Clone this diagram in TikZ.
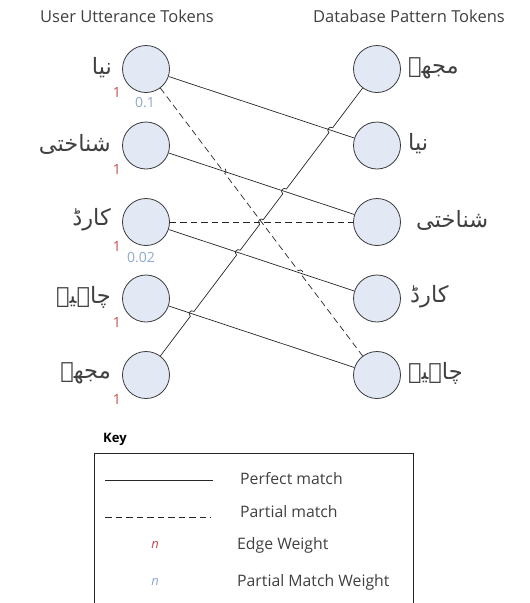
\documentclass[tikz,border=0pt]{standalone}
\usepackage{fontspec}
\setmainfont{Open Sans}
\newfontfamily\arabicfont[Script=Arabic]{DejaVu Sans}
\TeXXeTstate=1
\usetikzlibrary{calc,intersections}
\definecolor{tokfill}{HTML}{E2E9F5}
\definecolor{tokdraw}{HTML}{3A3A3A}
\definecolor{wred}{HTML}{C0504D}
\definecolor{wblue}{HTML}{8EA9CE}
\definecolor{txt}{HTML}{404040}
\begin{document}
\begin{tikzpicture}[x=1pt,y=-1pt,
  tok/.style={circle, draw=tokdraw, fill=tokfill, minimum size=47pt, inner sep=0pt, line width=0.8pt},
  ur/.style={font=\arabicfont\fontsize{22.5}{26}\selectfont, text=txt, inner sep=0pt},
  ew/.style={text=wred, font=\fontsize{14}{16}\selectfont, inner sep=0pt},
  pw/.style={text=wblue, font=\fontsize{14}{16}\selectfont, inner sep=0pt},
  ttl/.style={text=txt, font=\fontsize{16.5}{19}\selectfont, inner sep=0pt},
  keyt/.style={text=txt, font=\fontsize{15.8}{18}\selectfont, inner sep=0pt, anchor=west},
  conn/.style={draw=black!85, line width=0.7pt},
  pconn/.style={conn, dash pattern=on 6.5pt off 4pt},
  hop/.style={bend left=90, looseness=1.7}]
\useasboundingbox (0,0) rectangle (530,603);
\clip (0,0) rectangle (530,603);
% titles
\node[ttl] (t1) at (127,16) {User Utterance Tokens};
\node[ttl] (t2) at (409,16) {Database Pattern Tokens};
% left tokens
\node[tok] (L1) at (146,69) {};
\node[tok] (L2) at (146,145.5) {};
\node[tok] (L3) at (146,222) {};
\node[tok] (L4) at (146,298.5) {};
\node[tok] (L5) at (146,375) {};
% right tokens
\node[tok] (R1) at (377,69) {};
\node[tok] (R2) at (377,145.5) {};
\node[tok] (R3) at (377,222) {};
\node[tok] (R4) at (377,298.5) {};
\node[tok] (R5) at (377,375) {};
% left labels
\node[ur, anchor=east] (a1) at (112,68) {\beginR نیا\endR};
\node[ur, anchor=east] (a2) at (111,144) {\beginR شناختی\endR};
\node[ur, anchor=east] (a3) at (111,220) {\beginR کارڈ\endR};
\node[ur, anchor=east] (a4) at (111,297) {\beginR چاہیے\endR};
\node[ur, anchor=east] (a5) at (111,373) {\beginR مجھے\endR};
% right labels
\node[ur, anchor=west] (b1) at (408,68) {\beginR مجھے\endR};
\node[ur, anchor=west] (b2) at (408,144) {\beginR نیا\endR};
\node[ur, anchor=west] (b3) at (416,220) {\beginR شناختی\endR};
\node[ur, anchor=west] (b4) at (410,297) {\beginR کارڈ\endR};
\node[ur, anchor=west] (b5) at (408,373) {\beginR چاہیے\endR};
% weights
\node[ew] (w1) at (117,92) {1};
\node[ew] (w2) at (117,169) {1};
\node[ew] (w3) at (117,246) {1};
\node[ew] (w4) at (117,322) {1};
\node[ew] (w5) at (117,399) {1};
\node[pw] (p1) at (145,103) {0.1};
\node[pw] (p3) at (141,258) {0.02};
% helper paths
\path[name path=s12] (L1.center) -- (R2.center);
\path[name path=s15] (L1.center) -- (R5.center);
\path[name path=s23] (L2.center) -- (R3.center);
\path[name path=s33] (L3.center) -- (R3.center);
\path[name path=s34] (L3.center) -- (R4.center);
\path[name path=s45] (L4.center) -- (R5.center);
\path[name path=s51] (L5.center) -- (R1.center);
\path[name intersections={of=s51 and s45, by=c1}];
\path[name intersections={of=s51 and s34, by=c2}];
\path[name intersections={of=s51 and s33, by=c3}];
\path[name intersections={of=s51 and s23, by=c4}];
\path[name intersections={of=s51 and s12, by=c5}];
\path[name intersections={of=s15 and s23, by=c6}];
\path[name intersections={of=s15 and s34, by=c7}];
% connectors (under)
\draw[conn] (L1) -- (R2);
\draw[conn] (L2) -- (R3);
\draw[pconn] (L3) -- (R3);
\draw[conn] (L3) -- (R4);
\draw[conn] (L4) -- (R5);
% connectors with hops
\draw[pconn] (L1) -- ($(c6)!3pt!(L1.center)$) to[hop] ($(c6)!3pt!(R5.center)$)
  -- ($(c7)!3pt!(L1.center)$) to[hop] ($(c7)!3pt!(R5.center)$) -- (R5);
\draw[conn] (L5) -- ($(c1)!3pt!(L5.center)$) to[hop] ($(c1)!3pt!(R1.center)$)
  -- ($(c2)!3pt!(L5.center)$) to[hop] ($(c2)!3pt!(R1.center)$)
  -- ($(c3)!3pt!(L5.center)$) to[hop] ($(c3)!3pt!(R1.center)$)
  -- ($(c4)!3pt!(L5.center)$) to[hop] ($(c4)!3pt!(R1.center)$)
  -- ($(c5)!3pt!(L5.center)$) to[hop] ($(c5)!3pt!(R1.center)$) -- (R1);
% key
\node[text=black, font=\bfseries\fontsize{13}{15}\selectfont, inner sep=0pt, anchor=west] (key) at (103,439) {Key};
\draw[line width=0.8pt, draw=black!85] (94,453) rectangle (413,650);
\coordinate (k1a) at (105,480);
\coordinate (k1b) at (213,480);
\draw[conn] (k1a) -- (k1b);
\node[keyt] (kt1) at (240,479) {Perfect match};
\coordinate (k2a) at (105,517);
\coordinate (k2b) at (211,517);
\draw[pconn] (k2a) -- (k2b);
\node[keyt] (kt2) at (240,512) {Partial match};
\node[ew, font=\itshape\fontsize{13}{15}\selectfont] (kn1) at (155,545) {n};
\node[keyt] (kt3) at (237,545) {Edge Weight};
\node[pw, font=\itshape\fontsize{13}{15}\selectfont] (kn2) at (155,582) {n};
\node[keyt] (kt4) at (237,582) {Partial Match Weight};
\end{tikzpicture}
\end{document}
